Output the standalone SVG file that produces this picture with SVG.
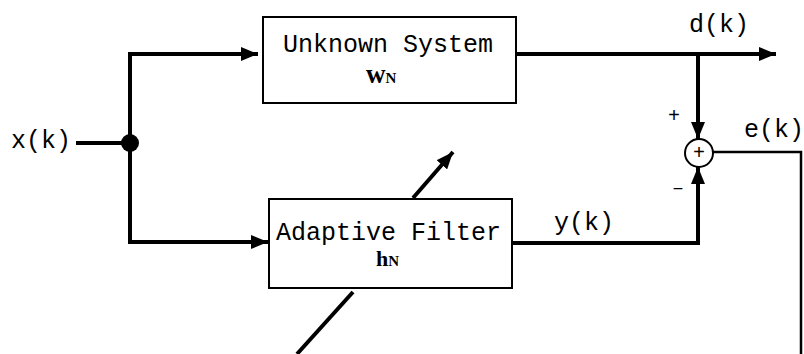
<svg xmlns="http://www.w3.org/2000/svg" width="804" height="354" viewBox="0 0 804 354">
  <style>
    .lbl { font-family: "Liberation Mono", "Courier New", monospace; font-size: 25px; fill: #000; }
    .sym { font-family: "Liberation Serif", "Times New Roman", serif; font-weight: bold; fill: #000; }
    .sign { font-family: "Liberation Mono", "Courier New", monospace; font-size: 20px; fill: #000; }
    .box { fill: #fff; stroke: #000; stroke-width: 2; }
    .wire { fill: none; stroke: #000; stroke-width: 4; stroke-linejoin: miter; }
    .thin { fill: none; stroke: #000; stroke-width: 2.5; }
  </style>
  <defs>
    <marker id="arr" markerUnits="userSpaceOnUse" markerWidth="18" markerHeight="14" refX="17" refY="7" orient="auto" viewBox="0 0 18 14">
      <path d="M0,0 L17,7 L0,14 z" fill="#000"/>
    </marker>
  </defs>
  <rect width="804" height="354" fill="#fff"/>

  <g id="connectors">
    <line class="wire" x1="76" y1="143" x2="130" y2="143"/>
    <polyline class="wire" points="130,242 130,54 258,54" marker-end="url(#arr)"/>
    <polyline class="wire" points="130,143 130,242 268,242" marker-end="url(#arr)"/>
    <circle cx="130" cy="143" r="9" fill="#000"/>
    <line class="wire" x1="516" y1="54" x2="776" y2="54" marker-end="url(#arr)"/>
    <line class="wire" x1="698" y1="54" x2="698" y2="139" marker-end="url(#arr)"/>
    <polyline class="wire" points="512,243 698,243 698,167" marker-end="url(#arr)"/>
    <polyline class="thin" points="713,152 801,152 801,354"/>
    <line class="wire" x1="297" y1="354" x2="353" y2="292"/>
    <line class="wire" x1="413" y1="198" x2="453" y2="152" marker-end="url(#arr)"/>
  </g>

  <g id="unknown-system">
    <rect class="box" x="263" y="17" width="253" height="86"/>
    <text class="lbl" x="283" y="52">Unknown System</text>
    <text class="sym" x="366" y="83"><tspan font-size="27">w</tspan><tspan font-size="15">N</tspan></text>
  </g>

  <g id="adaptive-filter">
    <rect class="box" x="269" y="199" width="243" height="89"/>
    <text class="lbl" x="276" y="240">Adaptive Filter</text>
    <text class="sym" x="376" y="266"><tspan font-size="22">h</tspan><tspan font-size="15">N</tspan></text>
  </g>

  <g id="sum">
    <circle cx="699" cy="153" r="14" fill="#fff" stroke="#000" stroke-width="2"/>
    <text class="sign" x="699" y="159" text-anchor="middle" font-size="17">+</text>
  </g>

  <g id="labels">
    <text class="lbl" x="11" y="148">x(k)</text>
    <text class="lbl" x="689" y="32">d(k)</text>
    <text class="lbl" x="744" y="137">e(k)</text>
    <text class="lbl" x="554" y="230">y(k)</text>
    <text class="sign" x="674" y="122" text-anchor="middle">+</text>
    <text class="sign" x="678" y="194" text-anchor="middle">–</text>
  </g>
</svg>
